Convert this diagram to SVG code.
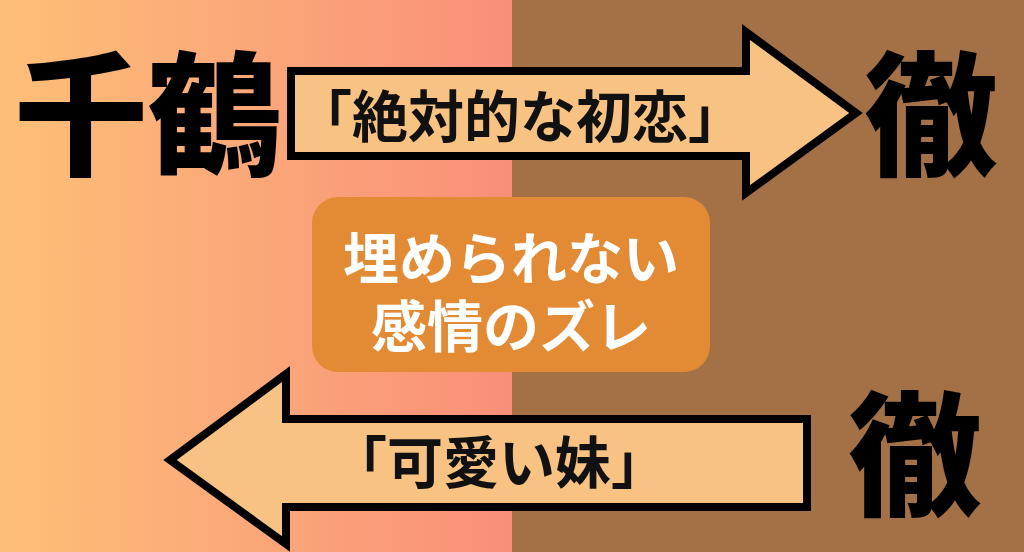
<svg xmlns="http://www.w3.org/2000/svg" width="1024" height="552" viewBox="0 0 1024 552">
<defs>
<linearGradient id="bgL" x1="0" y1="0" x2="1" y2="0">
<stop offset="0" stop-color="#FDBF77"/>
<stop offset="1" stop-color="#F98F7A"/>
</linearGradient>
<style>
.big{font-family:"Noto Sans CJK JP","Noto Sans CJK SC",sans-serif;font-weight:900;fill:#000;}
.lbl{font-family:"Noto Sans CJK JP","Noto Sans CJK SC",serif;font-weight:700;fill:#111;font-size:56px;}
.arrow{fill:#F8C283;stroke:#000;stroke-width:8;stroke-linejoin:miter;}
.mid{font-family:"Noto Sans CJK JP","Noto Sans CJK SC",sans-serif;font-weight:700;fill:#fff;font-size:56px;}
</style>
</defs>
<rect x="0" y="0" width="512" height="552" fill="url(#bgL)"/>
<rect x="512" y="0" width="512" height="552" fill="#A47045"/>
<g id="connectors">
<g id="arrow-top">
<path class="arrow" d="M291,71 L746,71 L746,32 L856,113 L746,193 L746,156 L291,156 Z"/>
<text class="lbl" x="520" y="137" text-anchor="middle">「絶対的な初恋」</text>
</g>
<g id="arrow-bottom">
<path class="arrow" d="M807,419 L286,419 L286,374 L170,460 L286,544 L286,507 L807,507 Z"/>
<text class="lbl" x="499" y="483" text-anchor="middle">「可愛い妹」</text>
</g>
</g>
<g id="node-chizuru">
<text class="big" x="148" y="165" font-size="134" text-anchor="middle">千鶴</text>
</g>
<g id="node-toru-top">
<text class="big" x="931" y="165" font-size="134" text-anchor="middle">徹</text>
</g>
<g id="node-toru-bottom">
<text class="big" x="915" y="505" font-size="134" text-anchor="middle">徹</text>
</g>
<g id="node-center">
<rect x="312" y="197" width="398" height="175" rx="26" fill="#E38A35"/>
<text class="mid" x="511" y="279" text-anchor="middle">埋められない</text>
<text class="mid" x="511" y="347" text-anchor="middle">感情のズレ</text>
</g>
</svg>
